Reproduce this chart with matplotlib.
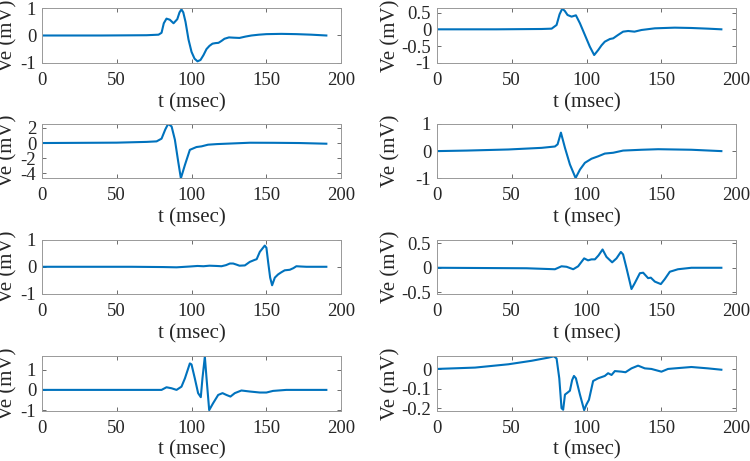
import numpy as np
import matplotlib
matplotlib.use("Agg")
import matplotlib.pyplot as plt
from matplotlib.ticker import FormatStrFormatter

plt.rcParams['font.family'] = ['Liberation Serif', 'DejaVu Serif']
plt.rcParams['axes.unicode_minus'] = False

# traces, t in msec, Ve in mV
t1 = [0, 40, 70, 78, 80, 81.5, 83.3, 85.5, 88, 90.5, 92, 93.3, 94.5, 96, 98, 100, 102, 104, 106, 108,
      110, 112, 114, 116, 118, 120, 122, 125, 128, 132, 136, 140, 145, 150, 160, 170, 180, 190]
v1 = [0, 0, 0.01, 0.03, 0.1, 0.45, 0.62, 0.58, 0.45, 0.6, 0.85, 0.96, 0.85, 0.5, -0.15, -0.6, -0.85, -0.95, -0.9, -0.72,
      -0.5, -0.38, -0.3, -0.28, -0.27, -0.2, -0.12, -0.07, -0.08, -0.09, -0.04, 0.0, 0.03, 0.05, 0.06, 0.05, 0.03, 0.0]

t2 = [0, 40, 70, 76.7, 80, 82, 83.8, 85.5, 87.3, 90, 92.9, 95.6, 98.9, 102.2, 105.1, 107.8, 110, 112.2, 115.6, 117.8,
      121, 124.4, 127.8, 132, 136.7, 145.6, 158.9, 170, 181, 190]
v2 = [0, 0, 0.01, 0.02, 0.13, 0.45, 0.62, 0.55, 0.43, 0.38, 0.42, 0.18, -0.17, -0.52, -0.77, -0.62, -0.48, -0.37, -0.29, -0.27,
      -0.17, -0.07, -0.05, -0.07, -0.02, 0.03, 0.05, 0.04, 0.02, 0.0]

t3 = [0, 50, 70, 76.7, 80, 82.5, 84.4, 86.7, 88.9, 91.1, 92.9, 95.6, 98.9, 103.3, 106.7, 111, 117, 123, 139, 155, 172, 190]
v3 = [0, 0.05, 0.15, 0.22, 0.58, 1.8, 2.53, 2.2, 0.44, -2.44, -4.67, -2.9, -0.9, -0.53, -0.44, -0.22, -0.14, -0.09, 0.04, 0.03, 0.0, -0.09]

t4 = [0, 20, 47.8, 70, 78.9, 80.7, 82.9, 85.6, 88.9, 92.7, 95.6, 98.9, 103.3, 107.8, 112.2, 117.8, 124.4, 136.7,
      147.8, 170, 190]
v4 = [0, 0.02, 0.06, 0.12, 0.17, 0.25, 0.68, 0.12, -0.49, -0.99, -0.68, -0.43, -0.28, -0.19, -0.09, -0.06, 0.02, 0.05,
      0.07, 0.05, 0.0]

t5 = [0, 60, 81, 90, 98.9, 104, 108, 112, 116.7, 120, 123, 125.6, 127.8, 130, 132, 135.6, 138.9, 142, 143.5, 145.6,
      148.9, 150, 151.2, 152.5, 153.8, 155.6, 157.8, 160, 162.2, 165.6, 168, 170, 173, 176.7, 190]
v5 = [0, 0, -0.01, -0.02, 0.01, 0.03, 0.02, 0.04, 0.03, 0.02, 0.06, 0.12, 0.12, 0.08, 0.04, 0.05, 0.18, 0.25, 0.28, 0.55,
      0.78, 0.7, 0.15, -0.4, -0.68, -0.4, -0.28, -0.2, -0.13, -0.11, -0.05, 0.02, 0.01, 0.0, 0.0]

t6 = [0, 60, 78.9, 83.3, 86.7, 91.1, 94.4, 98.4, 101, 103.3, 105.6, 108, 110.7, 113.3, 117.1, 120, 122.9, 124.4, 126.7,
      130, 132.2, 135.6, 137.8, 141.1, 142.9, 145.6, 149.6, 152.2, 155.6, 157.8, 161, 170, 190]
v6 = [0, -0.01, -0.03, 0.03, 0.02, -0.03, 0.03, 0.19, 0.15, 0.17, 0.17, 0.25, 0.37, 0.22, 0.11, 0.19, 0.32, 0.27, -0.01,
      -0.43, -0.31, -0.11, -0.1, -0.21, -0.2, -0.28, -0.33, -0.23, -0.08, -0.06, -0.03, 0.0, 0.0]

t7 = [0, 60, 80, 83.3, 86.7, 90, 93.3, 95.6, 98.9, 100, 102.2, 104.4, 106.2, 107.3, 108.9, 110, 111.8, 114.4, 117.8,
      120.7, 123.3, 126, 128.9, 133.3, 138.9, 145.6, 150, 154.4, 163.3, 190]
v7 = [0, 0, 0.0, 0.13, 0.08, 0.0, 0.16, 0.57, 1.31, 1.26, 0.57, -0.16, -0.36, 0.57, 1.65, 0.6, -1.0, -0.66, -0.25,
      -0.16, -0.25, -0.33, -0.16, -0.03, -0.08, -0.13, -0.13, -0.05, 0.0, 0.0]

t8 = [0, 25.6, 47.8, 63.3, 74.4, 78.2, 80, 81.8, 83.3, 84.4, 85.6, 87.3, 88.9, 90.4, 91.6, 92.9, 95.6, 98.4, 100, 101.6,
      104.4, 107.8, 112.2, 114.4, 116.7, 118.9, 123.3, 126, 130, 134.4, 138.9, 143.3, 150, 154.4, 158.9, 170, 181, 190]
v8 = [0.002, 0.009, 0.026, 0.044, 0.06, 0.067, 0.056, -0.046, -0.2, -0.208, -0.13, -0.12, -0.11, -0.055, -0.034, -0.046,
      -0.13, -0.21, -0.18, -0.157, -0.06, -0.046, -0.034, -0.02, -0.029, -0.009, -0.012, -0.015, 0.005, 0.019, 0.005,
      0.002, -0.012, 0.002, 0.005, 0.012, 0.005, -0.002]

traces = [(t1, v1), (t2, v2), (t3, v3), (t4, v4), (t5, v5), (t6, v6), (t7, v7), (t8, v8)]
ylims = [(-1, 1), (-1, 0.63), (-4.67, 2.53), (-1, 1), (-1, 1), (-0.53, 0.57), (-1.02, 1.67), (-0.212, 0.068)]
yticks = [[-1, 0, 1], [-1, -0.5, 0, 0.5], [-4, -2, 0, 2], [-1, 0, 1], [-1, 0, 1], [-0.5, 0, 0.5], [-1, 0, 1],
          [-0.2, -0.1, 0]]

fig = plt.figure(figsize=(7.5, 4.61), dpi=100)
lefts = [0.0556, 0.5823]
label_x = [-0.112, -0.1525]
bottoms = [0.864, 0.6132, 0.3623, 0.1095]
w, h = 0.3995, 0.118

for i, (t, v) in enumerate(traces):
    ax = fig.add_axes([lefts[i % 2], bottoms[i // 2], w, h])
    ax.plot(t, v, color='#0072BD', lw=1.5)
    ax.set_xlim(0, 200)
    ax.set_ylim(*ylims[i])
    ax.set_xticks([0, 50, 100, 150, 200])
    ax.set_yticks(yticks[i])
    ax.yaxis.set_major_formatter(FormatStrFormatter('%g'))
    ax.tick_params(direction='in', length=3, width=0.6, color='#555555', labelsize=13.5,
                   labelcolor='#262626', top=True, right=True)
    ax.tick_params(axis='x', pad=6.5)
    ax.tick_params(axis='y', pad=4)
    for s in ax.spines.values():
        s.set_color('#999999')
        s.set_linewidth(0.7)
    ax.set_xlabel('t (msec)', fontsize=15, color='#262626', labelpad=3)
    ax.set_ylabel('Ve (mV)', fontsize=15, color='#262626', va='center')
    ax.yaxis.set_label_coords(label_x[i % 2], 0.5)

fig.savefig('out.png', dpi=100)
